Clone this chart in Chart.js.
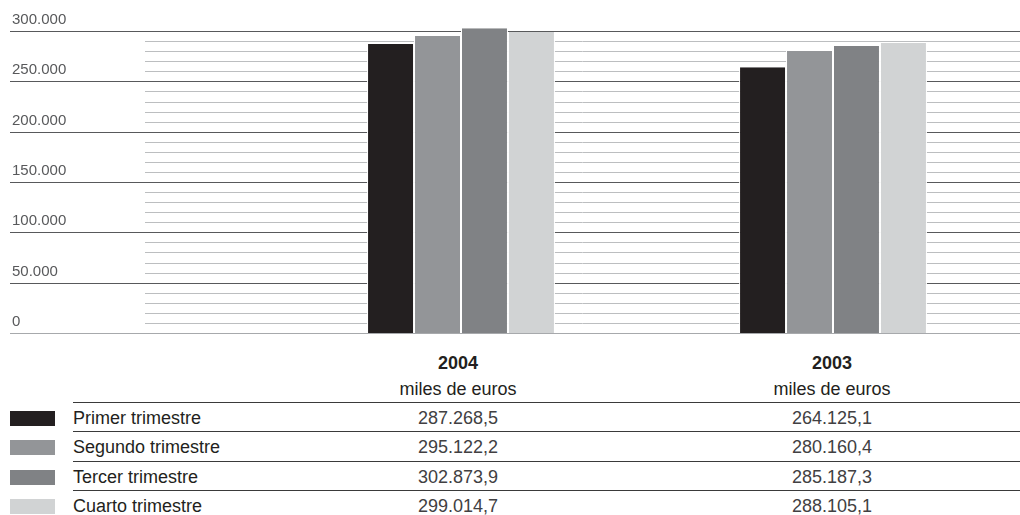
<!DOCTYPE html>
<html lang="es">
<head>
<meta charset="utf-8">
<script src="https://cdn.jsdelivr.net/npm/chart.js@4/dist/chart.umd.min.js"></script>
<style>
  html, body { margin: 0; padding: 0; background: #fff; }
  body { width: 1020px; height: 515px; position: relative; overflow: hidden;
         font-family: "Liberation Sans", Arial, Helvetica, sans-serif; }
  #chart { position: absolute; left: 0; top: 0; width: 1020px; height: 345px; }
  .head { position: absolute; width: 220px; text-align: center; font-size: 18px;
          line-height: 20px; color: #231f20; }
  .head.year { font-weight: bold; }
  .row { position: absolute; left: 0; width: 1020px; height: 30px; }
  .row .rule { position: absolute; left: 73px; right: 0; top: 0; border-top: 1px solid #3a3a3a; }
  .row .swatch { position: absolute; left: 10px; top: 9px; width: 45px; height: 15px; }
  .row .name { position: absolute; left: 73px; top: 1px; line-height: 30px; font-size: 18px; color: #231f20; }
  .row .val { position: absolute; top: 1px; width: 220px; text-align: center; line-height: 30px;
              font-size: 18px; color: #414042; }
</style>
</head>
<body>
<canvas id="chart" width="1020" height="345"></canvas>
<div id="table"></div>
<script>
// years on the x axis, one bar per quarter
const years = ["2004", "2003"];
const quarters = ["Primer trimestre", "Segundo trimestre", "Tercer trimestre", "Cuarto trimestre"];

// miles de euros, [2004, 2003]
const primer = [287268.5, 264125.1];
const segundo = [295122.2, 280160.4];
const tercer = [302873.9, 285187.3];
const cuarto = [299014.7, 288105.1];

const yTicks = [0, 50000, 100000, 150000, 200000, 250000, 300000];
const yTickLabels = ["0", "50.000", "100.000", "150.000", "200.000", "250.000", "300.000"];

const series = [primer, segundo, tercer, cuarto];
const barColors = ["#231f20", "#939598", "#808285", "#d1d3d4"];

// spanish number format: 287.268,5
function fmt(v) {
  const [int, dec] = v.toFixed(1).split(".");
  return int.replace(/\B(?=(\d{3})+(?!\d))/g, ".") + "," + dec;
}

// ruled background: light lines every 10.000, dark lines + labels every 50.000
const rules = {
  id: "rules",
  beforeDatasetsDraw(chart) {
    const { ctx } = chart;
    const y = chart.scales.y;
    const right = chart.width;
    ctx.save();
    ctx.lineWidth = 1;
    for (let v = 10000; v <= 300000; v += 10000) {
      if (v % 50000 === 0) continue;
      const py = Math.round(y.getPixelForValue(v)) + 0.5;
      ctx.strokeStyle = "#bcbec0";
      ctx.beginPath();
      ctx.moveTo(145, py);
      ctx.lineTo(right, py);
      ctx.stroke();
    }
    ctx.font = "15px 'Liberation Sans', Arial, sans-serif";
    ctx.textBaseline = "alphabetic";
    ctx.textAlign = "left";
    yTicks.forEach((v, i) => {
      const py = Math.round(y.getPixelForValue(v)) + 0.5;
      ctx.strokeStyle = v === 0 ? "#a7a9ac" : "#58595b";
      ctx.beginPath();
      ctx.moveTo(10, py);
      ctx.lineTo(right, py);
      ctx.stroke();
      ctx.fillStyle = "#58595b";
      ctx.fillText(yTickLabels[i], 12, py - 8);
    });
    ctx.restore();
  },
};

new Chart(document.getElementById("chart"), {
  type: "bar",
  data: {
    labels: years,
    datasets: quarters.map((q, i) => ({
      label: q,
      data: series[i],
      backgroundColor: barColors[i],
      borderColor: "#ffffff",
      borderWidth: { left: 1, right: 1, top: 0, bottom: 0 },
      categoryPercentage: 0.505,
      barPercentage: 1,
    })),
  },
  options: {
    responsive: false,
    animation: false,
    layout: { padding: { left: 275, right: 1, top: 21, bottom: 12 } },
    plugins: { legend: { display: false }, tooltip: { enabled: false } },
    scales: {
      x: { display: false },
      y: { display: false, min: 0, max: 310000 },
    },
  },
  plugins: [rules],
});

// data table under the chart
const colCenters = [458, 832];
const table = document.getElementById("table");
years.forEach((yr, j) => {
  const h = document.createElement("div");
  h.className = "head year";
  h.style.left = colCenters[j] - 110 + "px";
  h.style.top = "353px";
  h.textContent = yr;
  table.appendChild(h);
  const u = document.createElement("div");
  u.className = "head";
  u.style.left = colCenters[j] - 110 + "px";
  u.style.top = "379px";
  u.textContent = "miles de euros";
  table.appendChild(u);
});
quarters.forEach((q, i) => {
  const row = document.createElement("div");
  row.className = "row";
  row.style.top = 402 + i * 29.4 + "px";
  let html = `<div class="rule"></div><div class="swatch" style="background:${barColors[i]}"></div>` +
             `<div class="name">${q}</div>`;
  series[i].forEach((v, j) => {
    html += `<div class="val" style="left:${colCenters[j] - 110}px">${fmt(v)}</div>`;
  });
  row.innerHTML = html;
  table.appendChild(row);
});
</script>
</body>
</html>
